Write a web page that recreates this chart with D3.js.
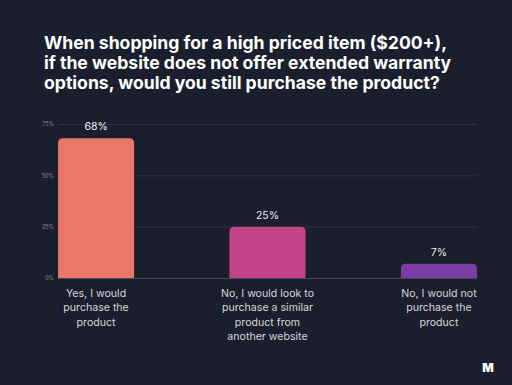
<!DOCTYPE html>
<html>
<head>
<meta charset="utf-8">
<script src="https://cdn.jsdelivr.net/npm/d3@7"></script>
<style>
  html, body { margin: 0; padding: 0; background: #1b1f2d; }
  #container { width: 512px; height: 385px; }
  svg { display: block; font-family: Inter, "Noto Sans", sans-serif; }
</style>
</head>
<body>
<div id="container"></div>
<script>
// 数据
const categories = [
  ["Yes, I would", "purchase the", "product"],
  ["No, I would look to", "purchase a similar", "product from", "another website"],
  ["No, I would not", "purchase the", "product"]
];
const values = [68, 25, 7];
const colors = ["#e8796a", "#c4448a", "#7a3da8"];
const ticks = [0, 25, 50, 75];
const titleLines = [
  "When shopping for a high priced item ($200+),",
  "if the website does not offer extended warranty",
  "options, would you still purchase the product?"
];

const width = 512;
const height = 385;
const marginTop = 124;
const marginRight = 35;
const marginBottom = 107;
const marginLeft = 58;

const svg = d3.select("#container")
  .append("svg")
  .attr("width", width)
  .attr("height", height)
  .attr("viewBox", [0, 0, width, height]);

svg.append("rect").attr("width", width).attr("height", height).attr("fill", "#1b1f2d");

// 标题
svg.append("g")
  .attr("fill", "#ffffff")
  .attr("font-size", 17.6)
  .attr("font-weight", 700)
  .selectAll("text")
  .data(titleLines)
  .join("text")
  .attr("x", 44)
  .attr("y", (d, i) => 49 + i * 20)
  .text(d => d);

// 比例尺
const x = d3.scaleBand()
  .domain(d3.range(values.length))
  .range([marginLeft, width - marginRight])
  .paddingInner(0.556)
  .paddingOuter(0);

const y = d3.scaleLinear()
  .domain([0, 75])
  .range([height - marginBottom, marginTop]);

// 纵轴 + 网格线
svg.append("g")
  .attr("transform", `translate(${marginLeft},0)`)
  .call(d3.axisLeft(y).tickValues(ticks).tickFormat(d => d + "%").tickSize(0).tickPadding(4))
  .call(g => g.select(".domain").remove())
  .call(g => g.selectAll(".tick text").attr("fill", "#8a8e9a").attr("font-size", 5.5).attr("font-family", "Inter, sans-serif"))
  .call(g => g.selectAll(".tick line")
    .attr("x2", width - marginRight - marginLeft)
    .attr("stroke", d => d === 0 ? "#454a5a" : "#2d3243")
    .attr("stroke-width", 1));

// 柱子（顶部圆角）
const r = 5;
svg.append("g")
  .selectAll("path")
  .data(values)
  .join("path")
  .attr("fill", (d, i) => colors[i])
  .attr("d", (d, i) => {
    const x0 = x(i), x1 = x(i) + x.bandwidth();
    const y0 = y(0), y1 = y(d);
    const rr = Math.min(r, (y0 - y1) / 2);
    return `M${x0},${y0}V${y1 + rr}Q${x0},${y1} ${x0 + rr},${y1}H${x1 - rr}Q${x1},${y1} ${x1},${y1 + rr}V${y0}Z`;
  });

// 数值标注
svg.append("g")
  .attr("fill", "#ececec")
  .attr("font-size", 10.5)
  .attr("text-anchor", "middle")
  .selectAll("text")
  .data(values)
  .join("text")
  .attr("x", (d, i) => x(i) + x.bandwidth() / 2)
  .attr("y", d => y(d) - 8)
  .text(d => d + "%");

// 类别标注
svg.append("g")
  .attr("fill", "#d6d6d9")
  .attr("font-size", 10.6)
  .attr("text-anchor", "middle")
  .selectAll("g")
  .data(categories)
  .join("g")
  .each(function (lines, i) {
    d3.select(this).selectAll("text")
      .data(lines)
      .join("text")
      .attr("x", x(i) + x.bandwidth() / 2)
      .attr("y", (d, j) => y(0) + 19 + j * 14.3)
      .text(d => d);
  });

// 右下角 logo
svg.append("text")
  .attr("x", 488)
  .attr("y", 372)
  .attr("text-anchor", "middle")
  .attr("fill", "#ffffff")
  .attr("font-size", 12)
  .attr("font-weight", 900)
  .text("M");
</script>
</body>
</html>
